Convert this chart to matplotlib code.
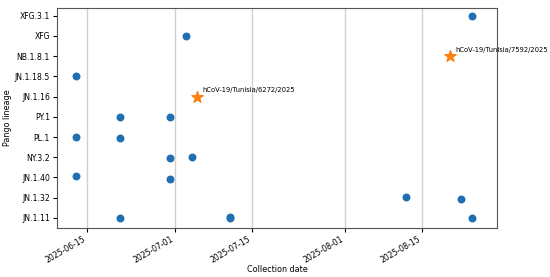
import matplotlib
matplotlib.use("Agg")
import matplotlib.pyplot as plt
import matplotlib.dates as mdates
from datetime import datetime

# Lineage order, bottom to top
lineages = ["JN.1.11", "JN.1.32", "JN.1.40", "NY.3.2", "PL.1", "PY.1",
            "JN.1.16", "JN.1.18.5", "NB.1.8.1", "XFG", "XFG.3.1"]

sample_dates = ["2025-06-21", "2025-07-11", "2025-07-11", "2025-08-24",
                "2025-08-12", "2025-08-22",
                "2025-06-13", "2025-06-30",
                "2025-06-30", "2025-07-04",
                "2025-06-13", "2025-06-21",
                "2025-06-21", "2025-06-30",
                "2025-06-13",
                "2025-07-03",
                "2025-08-24"]
sample_lineages = ["JN.1.11", "JN.1.11", "JN.1.11", "JN.1.11",
                   "JN.1.32", "JN.1.32",
                   "JN.1.40", "JN.1.40",
                   "NY.3.2", "NY.3.2",
                   "PL.1", "PL.1",
                   "PY.1", "PY.1",
                   "JN.1.18.5",
                   "XFG",
                   "XFG.3.1"]
sample_jitter = [0.0, 0.02, -0.03, 0.0,
                 0.01, -0.06,
                 0.09, -0.06,
                 -0.02, 0.01,
                 0.02, -0.04,
                 0.0, 0.0,
                 0.0,
                 0.0,
                 0.0]

# Highlighted sequences
star_dates = ["2025-07-05", "2025-08-20"]
star_lineages = ["JN.1.16", "NB.1.8.1"]
star_names = ["hCoV-19/Tunisia/6272/2025", "hCoV-19/Tunisia/7592/2025"]

tick_dates = ["2025-06-15", "2025-07-01", "2025-07-15", "2025-08-01", "2025-08-15"]

def d(s):
    return mdates.date2num(datetime.strptime(s, "%Y-%m-%d"))

fig = plt.figure(figsize=(5.5, 2.77), dpi=100)
ax = fig.add_axes([0.1036, 0.177, 0.80, 0.794])

xs = [d(s) for s in sample_dates]
ys = [lineages.index(l) + j for l, j in zip(sample_lineages, sample_jitter)]
ax.scatter(xs, ys, s=22, color="#1f6fb2", zorder=3)

sx = [d(s) for s in star_dates]
sy = [lineages.index(l) for l in star_lineages]
ax.scatter(sx, sy, s=70, marker="*", color="#ff7f0e", zorder=4)
for x, y, name in zip(sx, sy, star_names):
    ax.annotate(name, (x, y), xytext=(4, 3), textcoords="offset points",
                fontsize=4.9, color="black")

ax.set_yticks(range(len(lineages)))
ax.set_yticklabels(lineages, fontsize=5.6)
ax.set_ylim(-0.5, 10.38)

ax.set_xticks([d(s) for s in tick_dates])
ax.set_xticklabels(tick_dates, fontsize=5.6, rotation=30, ha="right")
ax.set_xlim(d("2025-06-09") + 0.5, d("2025-08-28") + 0.6)

ax.grid(True, axis="x", color="#d0d0d0", linewidth=1)
ax.set_axisbelow(True)
for sp in ax.spines.values():
    sp.set_color("#555555")
ax.tick_params(length=3, width=0.8, pad=2)

ax.set_xlabel("Collection date", fontsize=5.8, labelpad=0)
ax.set_ylabel("Pango lineage", fontsize=5.8, labelpad=2)

fig.savefig("out.png", dpi=100)
